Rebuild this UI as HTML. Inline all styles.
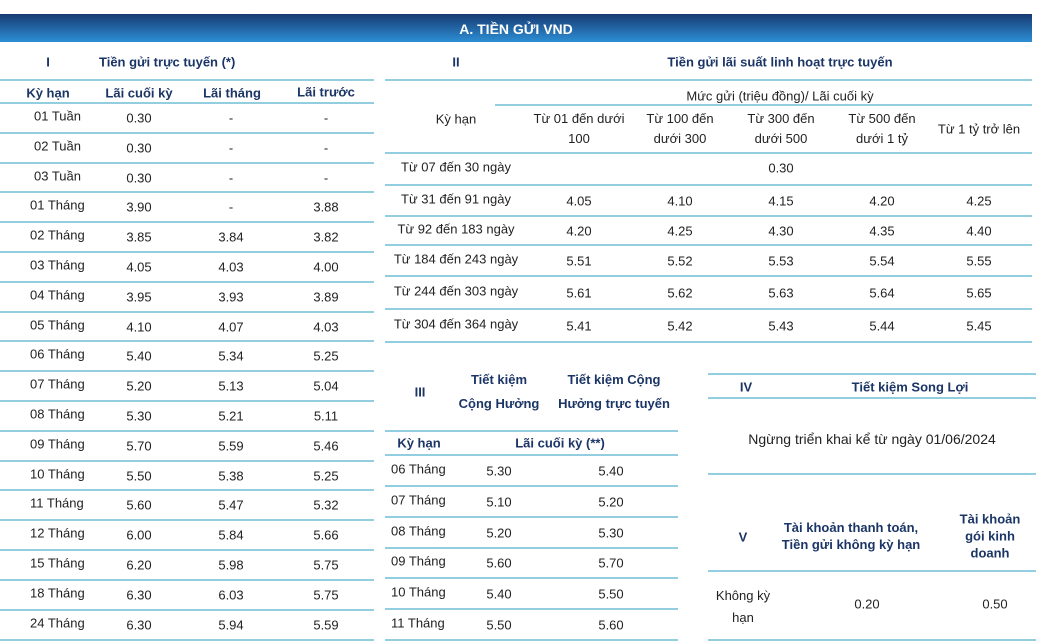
<!DOCTYPE html>
<html><head><meta charset="utf-8"><style>
body{margin:0;width:1064px;height:644px;background:#fff;position:relative;overflow:hidden;font-family:"Liberation Sans",sans-serif;font-size:13px;color:#222}
.t{position:absolute;white-space:nowrap;transform:translate(-50%,-50%);line-height:1}
.l{position:absolute;white-space:nowrap;transform:translateY(-50%);line-height:1}
.b{font-weight:bold;color:#1b3566}
.h{position:absolute;height:2px;background:#93cde0}
.c{text-align:center;line-height:20px}
</style></head><body>
<div style="position:absolute;left:0;top:14px;width:1032px;height:28px;background:linear-gradient(#173a72,#2d8fd5)"></div>
<div class="t" style="left:516px;top:29px;color:#fff;font-weight:bold;font-size:14px">A. TIỀN GỬI VND</div>

<!-- Section I -->
<div class="t b" style="left:48px;top:62px">I</div>
<div class="l b" style="left:99px;top:62px">Tiền gửi trực tuyến (*)</div>
<div class="h" style="left:0;top:79px;width:374px"></div>
<div class="t b" style="left:48px;top:93px">Kỳ hạn</div>
<div class="t b" style="left:139px;top:93px">Lãi cuối kỳ</div>
<div class="t b" style="left:232px;top:93px">Lãi tháng</div>
<div class="t b" style="left:326px;top:92px">Lãi trước</div>
<div id="left"></div>

<!-- Section II -->
<div class="t b" style="left:456px;top:62px">II</div>
<div class="t b" style="left:780px;top:62px">Tiền gửi lãi suất linh hoạt trực tuyến</div>
<div class="h" style="left:385px;top:79px;width:647px"></div>
<div class="t" style="left:780px;top:96px">Mức gửi (triệu đồng)/ Lãi cuối kỳ</div>
<div class="h" style="left:495px;top:104px;width:537px"></div>
<div class="t" style="left:456px;top:119px">Kỳ hạn</div>
<div class="t c" style="left:579px;top:129px">Từ 01 đến dưới<br>100</div>
<div class="t c" style="left:680px;top:129px">Từ 100 đến<br>dưới 300</div>
<div class="t c" style="left:781px;top:129px">Từ 300 đến<br>dưới 500</div>
<div class="t c" style="left:882px;top:129px">Từ 500 đến<br>dưới 1 tỷ</div>
<div class="t" style="left:979px;top:129px">Từ 1 tỷ trở lên</div>
<div id="mid"></div>

<!-- Section III -->
<div class="t b" style="left:420px;top:392px">III</div>
<div class="t b c" style="left:499px;top:392px;line-height:24px">Tiết kiệm<br>Cộng Hưởng</div>
<div class="t b c" style="left:614px;top:392px;line-height:24px">Tiết kiệm Cộng<br>Hưởng trực tuyến</div>
<div class="h" style="left:385px;top:430px;width:293px"></div>
<div class="t b" style="left:419px;top:443px">Kỳ hạn</div>
<div class="t b" style="left:560px;top:443px">Lãi cuối kỳ (**)</div>
<div id="iii"></div>

<!-- Section IV -->
<div class="h" style="left:708px;top:373px;width:328px"></div>
<div class="t b" style="left:746px;top:387px">IV</div>
<div class="t b" style="left:910px;top:387px">Tiết kiệm Song Lợi</div>
<div class="h" style="left:708px;top:397px;width:328px"></div>
<div class="t" style="left:872px;top:439px;font-size:14px">Ngừng triển khai kể từ ngày 01/06/2024</div>
<div class="h" style="left:708px;top:473px;width:328px"></div>
<div class="t b" style="left:743px;top:537px">V</div>
<div class="t b c" style="left:851px;top:536px;line-height:17px">Tài khoản thanh toán,<br>Tiền gửi không kỳ hạn</div>
<div class="t b c" style="left:990px;top:536px;line-height:17px">Tài khoản<br>gói kinh<br>doanh</div>
<div class="h" style="left:708px;top:570px;width:328px"></div>
<div class="t c" style="left:743px;top:607px;line-height:22px">Không kỳ<br>hạn</div>
<div class="t" style="left:867px;top:604px">0.20</div>
<div class="t" style="left:995px;top:604px">0.50</div>
<div class="h" style="left:708px;top:639px;width:328px"></div>

<script>
function add(id,html){document.getElementById(id).innerHTML+=html}
var L=[["01 Tuần","0.30","-","-"],["02 Tuần","0.30","-","-"],["03 Tuần","0.30","-","-"],["01 Tháng","3.90","-","3.88"],["02 Tháng","3.85","3.84","3.82"],["03 Tháng","4.05","4.03","4.00"],["04 Tháng","3.95","3.93","3.89"],["05 Tháng","4.10","4.07","4.03"],["06 Tháng","5.40","5.34","5.25"],["07 Tháng","5.20","5.13","5.04"],["08 Tháng","5.30","5.21","5.11"],["09 Tháng","5.70","5.59","5.46"],["10 Tháng","5.50","5.38","5.25"],["11 Tháng","5.60","5.47","5.32"],["12 Tháng","6.00","5.84","5.66"],["15 Tháng","6.20","5.98","5.75"],["18 Tháng","6.30","6.03","5.75"],["24 Tháng","6.30","5.94","5.59"]];
var s="";
for(var i=0;i<L.length;i++){var rt=Math.round(103+i*29.8);var y=rt+15;var r=L[i];
s+='<div class="h" style="left:0;top:'+(rt-1)+'px;width:374px"></div>';
s+='<div class="l" style="left:'+(r[0].indexOf("Tuần")>0?34:30)+'px;top:'+(y-2)+'px">'+r[0]+'</div>';
s+='<div class="t" style="left:139px;top:'+y+'px">'+r[1]+'</div>';
s+='<div class="t" style="left:231px;top:'+y+'px">'+r[2]+'</div>';
s+='<div class="t" style="left:326px;top:'+y+'px">'+r[3]+'</div>';}
s+='<div class="h" style="left:0;top:639px;width:374px"></div>';
add("left",s);
var M=[["Từ 07 đến 30 ngày",168],["Từ 31 đến 91 ngày",200,"4.05","4.10","4.15","4.20","4.25"],["Từ 92 đến 183 ngày",230,"4.20","4.25","4.30","4.35","4.40"],["Từ 184 đến 243 ngày",260,"5.51","5.52","5.53","5.54","5.55"],["Từ 244 đến 303 ngày",292,"5.61","5.62","5.63","5.64","5.65"],["Từ 304 đến 364 ngày",325,"5.41","5.42","5.43","5.44","5.45"]];
var ML=[152,184,215,244,275,308,341];s="";
ML.forEach(function(y){s+='<div class="h" style="left:385px;top:'+y+'px;width:647px"></div>'});
var cx=[579,680,781,882,979];
M.forEach(function(r,i){s+='<div class="t" style="left:456px;top:'+(r[1]-1)+'px">'+r[0]+'</div>';
if(i==0)s+='<div class="t" style="left:781px;top:'+r[1]+'px">0.30</div>';
else for(var j=0;j<5;j++)s+='<div class="t" style="left:'+cx[j]+'px;top:'+(r[1]+1)+'px">'+r[j+2]+'</div>';});
add("mid",s);
var T=[["06 Tháng","5.30","5.40"],["07 Tháng","5.10","5.20"],["08 Tháng","5.20","5.30"],["09 Tháng","5.60","5.70"],["10 Tháng","5.40","5.50"],["11 Tháng","5.50","5.60"]];
s='';var TL=[454,485,516,547,577,608,639];
TL.forEach(function(y){s+='<div class="h" style="left:385px;top:'+y+'px;width:293px"></div>'});
T.forEach(function(r,i){var y=Math.round(470+i*30.8);
s+='<div class="l" style="left:391px;top:'+(y-1)+'px">'+r[0]+'</div>';
s+='<div class="t" style="left:499px;top:'+(y+1)+'px">'+r[1]+'</div>';
s+='<div class="t" style="left:611px;top:'+(y+1)+'px">'+r[2]+'</div>';});
add("iii",s);
</script>
</body></html>
